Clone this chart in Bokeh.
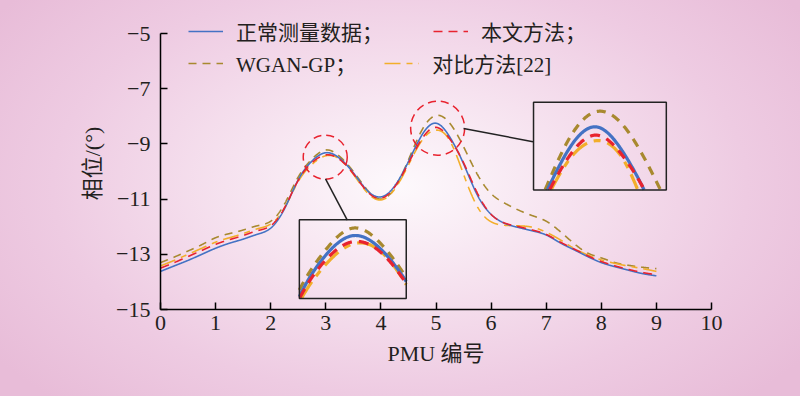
import numpy as np
from bokeh.plotting import figure
from bokeh.models import (Range1d, FixedTicker, Legend, LegendItem, BoxAnnotation,
                          GlobalInlineStyleSheet)
from bokeh.embed import file_html
from bokeh.resources import INLINE

# ---------------- data ----------------
pmu = [0, 0.25, 0.5, 0.75, 1, 1.25, 1.5, 1.75, 2, 2.25, 2.5, 2.75, 3, 3.25, 3.5, 3.75,
       4, 4.25, 4.5, 4.75, 5, 5.25, 5.5, 5.75, 6, 6.25, 6.5, 6.75, 7, 7.25, 7.5, 7.75,
       8, 8.25, 8.5, 8.75, 9]

normal = [-13.62, -13.42, -13.22, -13.00, -12.78, -12.60, -12.45, -12.28, -12.05, -11.35,
          -10.30, -9.62, -9.32, -9.52, -10.05, -10.68, -10.92, -10.52, -9.64, -8.66,
          -8.25, -8.75, -9.72, -10.85, -11.55, -11.88, -12.03, -12.15, -12.30, -12.58,
          -12.83, -13.08, -13.30, -13.45, -13.58, -13.70, -13.78]

proposed = [-13.50, -13.30, -13.08, -12.86, -12.64, -12.47, -12.32, -12.15, -11.96, -11.32,
            -10.32, -9.68, -9.40, -9.56, -10.08, -10.72, -10.97, -10.56, -9.70, -8.80,
            -8.40, -8.82, -9.68, -10.78, -11.55, -11.87, -12.00, -12.12, -12.28, -12.55,
            -12.80, -13.05, -13.26, -13.42, -13.55, -13.66, -13.74]

wgan = [-13.30, -13.10, -12.88, -12.65, -12.40, -12.25, -12.12, -11.97, -11.80, -11.18,
        -10.20, -9.55, -9.22, -9.45, -10.00, -10.66, -11.00, -10.60, -9.58, -8.48,
        -7.97, -8.25, -9.10, -10.10, -10.80, -11.15, -11.40, -11.60, -11.80, -12.17,
        -12.60, -12.95, -13.13, -13.30, -13.40, -13.47, -13.52]

compare = [-13.42, -13.22, -13.00, -12.78, -12.56, -12.40, -12.25, -12.08, -11.90, -11.32,
           -10.36, -9.74, -9.43, -9.55, -10.10, -10.76, -11.03, -10.64, -9.76, -8.86,
           -8.50, -8.88, -10.10, -11.27, -11.82, -11.95, -11.97, -12.02, -12.20, -12.47,
           -12.78, -13.02, -13.20, -13.33, -13.43, -13.52, -13.62]

series_names = ["正常测量数据；", "本文方法；", "WGAN-GP；", "对比方法[22]"]
x_ticks = [0, 1, 2, 3, 4, 5, 6, 7, 8, 9, 10]
y_ticks = [-15, -13, -11, -9, -7, -5]
y_tick_labels = ["\u221215", "\u221213", "\u221211", "\u22129", "\u22127", "\u22125"]

# ---------------- styles ----------------
BLUE, RED, OLIVE, YELLOW = "#4472C4", "#E8232F", "#A8892F", "#F2AE2A"
SERIF = "Liberation Serif, Noto Sans CJK SC"
TXT = "#231f20"


def smooth(x, y, xs):
    """natural cubic spline used only to render the read values as smooth curves"""
    x = np.asarray(x, float); y = np.asarray(y, float)
    n = len(x); h = np.diff(x)
    A = np.zeros((n, n)); r = np.zeros(n)
    A[0, 0] = 1; A[-1, -1] = 1
    for i in range(1, n - 1):
        A[i, i - 1] = h[i - 1]; A[i, i] = 2 * (h[i - 1] + h[i]); A[i, i + 1] = h[i]
        r[i] = 3 * ((y[i + 1] - y[i]) / h[i] - (y[i] - y[i - 1]) / h[i - 1])
    c = np.linalg.solve(A, r)
    b = (y[1:] - y[:-1]) / h - h * (2 * c[:-1] + c[1:]) / 3
    d = (c[1:] - c[:-1]) / (3 * h)
    idx = np.clip(np.searchsorted(x, xs) - 1, 0, n - 2)
    dx = xs - x[idx]
    return y[idx] + b[idx] * dx + c[idx] * dx ** 2 + d[idx] * dx ** 3


xs = np.linspace(pmu[0], pmu[-1], 1801)

# y range extends a little above -5 (axis bounded at -5) so the legend is not clipped
p = figure(width=800, height=396, output_backend="svg", toolbar_location=None,
           x_range=Range1d(0, 10), y_range=Range1d(-15, -4.42),
           min_border_left=160, min_border_right=89, min_border_top=17, min_border_bottom=87)
p.background_fill_alpha = 0
p.border_fill_alpha = 0
p.outline_line_color = None
p.grid.visible = False
p.stylesheets = [GlobalInlineStyleSheet(css=(
    "html{min-height:100%;background:radial-gradient(ellipse 62% 75% at 50% 47%,"
    "#fdf9fc 0%,#f6e2ef 35%,#eecbe2 70%,#e8bcd8 100%) fixed;}"
    "body{background:transparent;}"))]

for ax in (p.xaxis[0], p.yaxis[0]):
    ax.axis_line_color = "black"
    ax.axis_line_width = 1.5
    ax.major_tick_line_color = "black"
    ax.major_tick_line_width = 1.5
    ax.major_tick_in = 7
    ax.major_tick_out = 0
    ax.minor_tick_line_color = None
    ax.major_label_text_font = SERIF
    ax.major_label_text_font_size = "22px"
    ax.major_label_text_color = TXT
    ax.axis_label_text_font = SERIF
    ax.axis_label_text_font_size = "22px"
    ax.axis_label_text_font_style = "normal"
    ax.axis_label_text_color = TXT

p.yaxis.bounds = (-15, -5)
p.xaxis.ticker = FixedTicker(ticks=x_ticks)
p.yaxis.ticker = FixedTicker(ticks=y_ticks)
p.yaxis.major_label_overrides = dict(zip(y_ticks, y_tick_labels))
p.xaxis.major_label_standoff = 6
p.yaxis.major_label_standoff = 10
p.xaxis.axis_label = "PMU 编号"
p.yaxis.axis_label = "相位/(°)"
p.xaxis.axis_label_standoff = 8
p.yaxis.axis_label_standoff = 8

specs = [
    (wgan, OLIVE, "8 6"),
    (compare, YELLOW, "16 6 6 6"),
    (normal, BLUE, None),
    (proposed, RED, "9 6"),
]
renderers = {}
for ys, col, dash in specs:
    kw = dict(line_color=col, line_width=1.6)
    if dash:
        kw["line_dash"] = dash
    renderers[col] = p.line(xs, smooth(pmu, ys, xs), **kw)

# ---------------- zoom insets ----------------
# (source x0, x1, y0, y1) -> (target x0, x1, y0, y1) in the axes' data units
insets = [
    ((2.55, 3.45, -10.15, -9.11), (2.52, 4.46, -14.60, -11.75)),
    ((4.435, 5.625, -9.40, -7.80), (6.77, 9.18, -10.67, -7.49)),
]
for (sx0, sx1, sy0, sy1), (tx0, tx1, ty0, ty1) in insets:
    for ys, col, dash in specs:
        yy = smooth(pmu, ys, xs)
        m = (xs >= sx0) & (xs <= sx1) & (yy >= sy0) & (yy <= sy1)
        tx = tx0 + (xs - sx0) / (sx1 - sx0) * (tx1 - tx0)
        ty = ty0 + (yy - sy0) / (sy1 - sy0) * (ty1 - ty0)
        tx = np.where(m, tx, np.nan); ty = np.where(m, ty, np.nan)
        kw = dict(line_color=col, line_width=3.2)
        if dash:
            d = [int(v) for v in dash.split()]
            kw["line_dash"] = " ".join(str(int(v * 1.2)) for v in d)
        p.line(tx, ty, **kw)
    p.add_layout(BoxAnnotation(left=tx0, right=tx1, bottom=ty0, top=ty1,
                               fill_alpha=0, line_color="#222222", line_alpha=1,
                               line_width=1.5))

# dashed circles marking the zoomed regions and connectors
circ_x = [2.99, 5.03]
circ_y = [-9.48, -8.43]
circ_d = [44, 54]
p.scatter(circ_x, circ_y, size=circ_d, marker="circle", fill_alpha=0,
          line_color=RED, line_width=1.5, line_dash="8 5")
p.segment(x0=[2.995, 5.50], y0=[-10.27, -8.44], x1=[3.39, 6.76], y1=[-11.76, -8.92],
          line_color="#222222", line_width=1.5)

# ---------------- legend (two rows) ----------------
def make_legend(items, loc, spacing):
    lg = Legend(items=items, orientation="horizontal", location=loc,
                glyph_width=35, glyph_height=22, label_height=22, label_standoff=13,
                spacing=spacing, padding=0, margin=0, border_line_color=None,
                background_fill_alpha=0, label_text_font=SERIF,
                label_text_font_size="21px", label_text_color=TXT)
    p.add_layout(lg)

make_legend([LegendItem(label=series_names[0], renderers=[renderers[BLUE]]),
             LegendItem(label=series_names[1], renderers=[renderers[RED]])], (28, 263), 50)
make_legend([LegendItem(label=series_names[2], renderers=[renderers[OLIVE]]),
             LegendItem(label=series_names[3], renderers=[renderers[YELLOW]])], (28, 231), 28)

open("out.html", "w").write(file_html(p, INLINE))
